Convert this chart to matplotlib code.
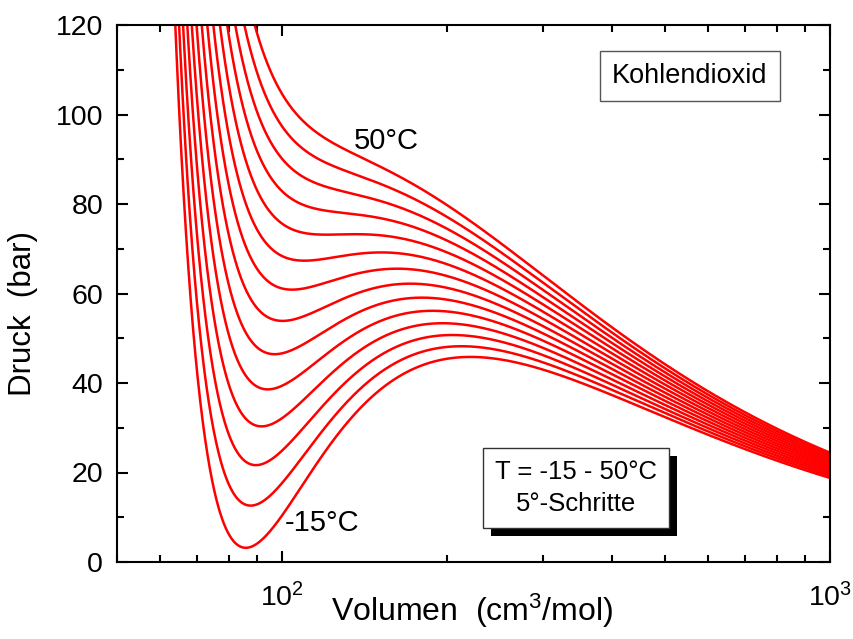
import numpy as np
import matplotlib
matplotlib.use('Agg')
import matplotlib.pyplot as plt
from matplotlib.patches import Rectangle
from matplotlib.ticker import LogLocator, MultipleLocator, NullFormatter

plt.rcParams['font.family'] = ['Liberation Sans', 'DejaVu Sans']
plt.rcParams['mathtext.fontset'] = 'custom'
plt.rcParams['mathtext.rm'] = 'Liberation Sans'
plt.rcParams['mathtext.default'] = 'regular'

# van der Waals isotherms of CO2, T = -15 ... 50 degC in 5 degree steps
temps_c = [-15, -10, -5, 0, 5, 10, 15, 20, 25, 30, 35, 40, 45, 50]
a_vdw = 3.64e6      # cm^6 bar / mol^2
b_vdw = 42.67       # cm^3 / mol
R_gas = 83.14       # cm^3 bar / (K mol)

V = np.logspace(np.log10(50), 3, 1500)

W, H = 854, 639
fig = plt.figure(figsize=(W / 100, H / 100), dpi=100)
ax = fig.add_axes([117 / W, 1 - 562 / H, (830 - 117) / W, (562 - 25) / H])

for t in temps_c:
    T = t + 273.15
    P = R_gas * T / (V - b_vdw) - a_vdw / V**2
    ax.plot(V, P, color='#ff0000', lw=1.8)

ax.set_xscale('log')
ax.set_xlim(50, 1000)
ax.set_ylim(0, 120)

ax.xaxis.set_major_locator(LogLocator(base=10, numticks=5))
ax.xaxis.set_minor_locator(LogLocator(base=10, subs=np.arange(2, 10), numticks=10))
ax.xaxis.set_minor_formatter(NullFormatter())
ax.yaxis.set_major_locator(MultipleLocator(20))
ax.yaxis.set_minor_locator(MultipleLocator(10))

ax.tick_params(which='both', direction='in', top=True, right=True, width=1.5,
               labelsize=20.5, colors='black')
ax.tick_params(which='major', length=8)
ax.tick_params(which='minor', length=5)
ax.tick_params(axis='y', which='major', pad=10)
ax.tick_params(axis='x', which='major', pad=15)
for s in ax.spines.values():
    s.set_linewidth(1.5)

# axis titles placed like in the original (y title sits a bit low)
fig.text(472 / W, 1 - 611 / H, 'Volumen  (cm$^3$/mol)', fontsize=23,
         ha='center', va='center')
fig.text(23 / W, 1 - 314 / H, 'Druck  (bar)', fontsize=22.5, rotation=90,
         ha='center', va='center')

ax.text(155, 94, '50°C', fontsize=21, ha='center', va='center')
ax.text(101, 8.7, '-15°C', fontsize=21, ha='left', va='center')

ax.text(555, 108.6, 'Kohlendioxid', fontsize=19.5, ha='center', va='center',
        bbox=dict(boxstyle='square,pad=0.45', facecolor='white', edgecolor='#555555', lw=1.0),
        zorder=5)

info = ax.text(344, 16.5, 'T = -15 - 50°C\n5°-Schritte', fontsize=18.5,
               ha='center', va='center', linespacing=1.45,
               bbox=dict(boxstyle='square,pad=0.45', facecolor='white', edgecolor='#333333', lw=1.0),
               zorder=6)

# drop shadow behind the info box, offset 8 px right/down
fig.canvas.draw()
bb = info.get_bbox_patch().get_window_extent()
shadow = Rectangle((bb.x0 + 8, bb.y0 - 8), bb.width, bb.height, transform=None,
                   facecolor='black', edgecolor='none', zorder=5)
ax.add_artist(shadow)

fig.savefig('out.png', dpi=100)
